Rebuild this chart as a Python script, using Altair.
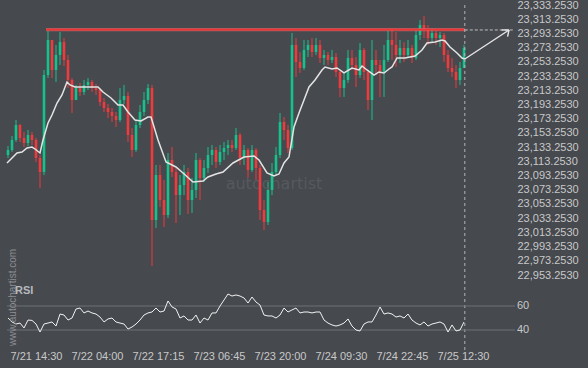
import altair as alt
import pandas as pd

# ---------------- data ----------------
bar_index = list(range(115))

opens = [
23122.1, 23129.2, 23143.3, 23164.4, 23146.1, 23139.0, 23150.3, 23143.3, 23117.9, 23098.2,
23234.7, 23284.0, 23241.8, 23262.9, 23281.2, 23255.9, 23227.7, 23199.6, 23216.4, 23210.8,
23220.7, 23224.9, 23216.4, 23213.6, 23196.7, 23188.3, 23182.7, 23177.0, 23171.4, 23199.6,
23205.2, 23150.3, 23129.2, 23164.4, 23182.7, 23199.6, 23216.4, 23030.7, 23094.0, 23058.8,
23037.7, 23115.1, 23098.2, 23065.8, 23079.9, 23098.2, 23058.8, 23072.9, 23115.1, 23089.8,
23103.8, 23122.1, 23129.2, 23112.3, 23126.4, 23132.0, 23136.2, 23132.0, 23150.3, 23117.9,
23129.2, 23101.0, 23129.2, 23103.8, 23044.7, 23027.9, 23072.9, 23098.2, 23122.1, 23168.6,
23157.3, 23132.0, 23277.0, 23253.0, 23244.6, 23269.9, 23277.0, 23267.1, 23277.0, 23258.7,
23262.9, 23255.9, 23260.1, 23239.0, 23216.4, 23227.7, 23258.7, 23248.8, 23234.7, 23269.9,
23239.0, 23199.6, 23255.9, 23248.8, 23239.0, 23255.9, 23284.0, 23277.0, 23262.9, 23272.7,
23262.9, 23272.7, 23258.7, 23291.0, 23305.1, 23298.1, 23286.8, 23293.9, 23286.8, 23291.0,
23262.9, 23244.6, 23239.0, 23227.7, 23244.6]

closes = [
23129.2, 23143.3, 23164.4, 23146.1, 23139.0, 23150.3, 23143.3, 23117.9, 23098.2, 23234.7,
23284.0, 23241.8, 23262.9, 23281.2, 23255.9, 23227.7, 23199.6, 23216.4, 23210.8, 23220.7,
23224.9, 23216.4, 23213.6, 23196.7, 23188.3, 23182.7, 23177.0, 23171.4, 23199.6, 23205.2,
23150.3, 23129.2, 23164.4, 23182.7, 23199.6, 23216.4, 23030.7, 23094.0, 23058.8, 23037.7,
23115.1, 23098.2, 23065.8, 23079.9, 23098.2, 23058.8, 23072.9, 23115.1, 23089.8, 23103.8,
23122.1, 23129.2, 23112.3, 23126.4, 23132.0, 23136.2, 23132.0, 23150.3, 23117.9, 23129.2,
23101.0, 23129.2, 23103.8, 23044.7, 23027.9, 23072.9, 23098.2, 23122.1, 23168.6, 23157.3,
23132.0, 23277.0, 23253.0, 23244.6, 23269.9, 23277.0, 23267.1, 23277.0, 23258.7, 23262.9,
23255.9, 23260.1, 23239.0, 23216.4, 23227.7, 23258.7, 23248.8, 23234.7, 23269.9, 23239.0,
23199.6, 23255.9, 23248.8, 23239.0, 23255.9, 23284.0, 23277.0, 23262.9, 23272.7, 23262.9,
23272.7, 23258.7, 23291.0, 23305.1, 23298.1, 23286.8, 23293.9, 23286.8, 23291.0, 23262.9,
23244.6, 23239.0, 23227.7, 23244.6, 23272.7]

highs = [
23134.8, 23148.9, 23171.4, 23165.8, 23154.5, 23157.3, 23154.5, 23146.1, 23122.1, 23241.8,
23296.7, 23284.0, 23277.0, 23295.3, 23286.8, 23262.9, 23230.5, 23220.7, 23223.5, 23227.7,
23230.5, 23227.7, 23222.1, 23216.4, 23202.4, 23193.9, 23188.3, 23182.7, 23216.4, 23220.7,
23210.8, 23160.1, 23171.4, 23192.5, 23210.8, 23222.1, 23220.7, 23108.1, 23108.1, 23087.0,
23125.0, 23133.4, 23103.8, 23094.0, 23108.1, 23103.8, 23089.8, 23125.0, 23117.9, 23115.1,
23133.4, 23136.2, 23133.4, 23136.2, 23140.4, 23143.3, 23143.3, 23160.1, 23153.1, 23136.2,
23132.0, 23136.2, 23132.0, 23108.1, 23058.8, 23084.1, 23110.9, 23133.4, 23181.3, 23175.6,
23164.4, 23293.9, 23286.8, 23267.1, 23284.0, 23284.0, 23286.8, 23286.8, 23284.0, 23269.9,
23267.1, 23269.9, 23265.7, 23241.8, 23239.0, 23269.9, 23269.9, 23260.1, 23279.8, 23272.7,
23241.8, 23284.0, 23269.9, 23255.9, 23277.0, 23298.1, 23300.9, 23295.3, 23284.0, 23281.2,
23284.0, 23277.0, 23298.1, 23312.1, 23317.8, 23305.1, 23300.9, 23298.1, 23295.3, 23293.9,
23269.9, 23258.7, 23248.8, 23253.0, 23277.0]

lows = [
23117.9, 23126.4, 23140.4, 23140.4, 23133.4, 23134.8, 23136.2, 23112.3, 23075.7, 23094.0,
23230.5, 23230.5, 23224.9, 23248.8, 23247.4, 23216.4, 23181.3, 23199.6, 23205.2, 23206.6,
23213.6, 23210.8, 23206.6, 23191.1, 23182.7, 23174.2, 23168.6, 23161.6, 23168.6, 23193.9,
23140.4, 23119.3, 23126.4, 23160.1, 23177.0, 23193.9, 22965.9, 23019.4, 23049.0, 23020.8,
23033.5, 23091.2, 23026.4, 23037.7, 23065.8, 23039.1, 23040.5, 23061.6, 23058.8, 23084.1,
23096.8, 23108.1, 23103.8, 23108.1, 23115.1, 23122.1, 23126.4, 23129.2, 23108.1, 23108.1,
23089.8, 23098.2, 23087.0, 23030.7, 23016.6, 23023.6, 23065.8, 23094.0, 23117.9, 23143.3,
23125.0, 23129.2, 23231.9, 23237.6, 23241.8, 23260.1, 23260.1, 23262.9, 23251.6, 23248.8,
23248.8, 23251.6, 23231.9, 23203.8, 23203.8, 23223.5, 23241.8, 23217.9, 23230.5, 23227.7,
23185.5, 23171.4, 23234.7, 23203.8, 23203.8, 23253.0, 23255.9, 23246.0, 23251.6, 23253.0,
23258.7, 23251.6, 23255.9, 23284.0, 23286.8, 23277.0, 23281.2, 23277.0, 23274.1, 23253.0,
23239.0, 23231.9, 23216.4, 23220.7, 23244.6]

# moving average
ma_index = [-0.25, 1, 2.25, 3.5, 4.75, 6, 6.75, 8, 8.75, 10, 11, 12.25, 13.5, 14.75, 15.5,
            16.75, 18, 22.5, 23.75, 25.75, 27.5, 28.75, 30, 31.75, 33.25, 35, 35.75, 36.75,
            37.5, 39.5, 42, 43.75, 46.25, 48.75, 50, 52, 53.75, 56.25, 59, 61.5, 62.75, 64.75,
            66.5, 67.75, 69, 70.25, 71.5, 72.75, 74, 75.25, 76.75, 78.5, 79.25, 81, 82.25, 84,
            86, 87.75, 88.5, 89.75, 91.5, 92.75, 94, 95.25, 96, 97.25, 99.25, 101.75, 103.5,
            104.75, 106.75, 108.5, 109.25, 110.5, 112.25, 113.5, 114.25]
ma_value = [23110.9, 23117.9, 23125.0, 23126.4, 23132.0, 23133.4, 23130.6, 23125.0, 23143.3,
            23167.2, 23178.4, 23195.3, 23206.6, 23224.9, 23220.7, 23217.9, 23217.9, 23217.9,
            23210.8, 23202.4, 23192.5, 23192.5, 23182.7, 23171.4, 23170.0, 23175.6, 23175.6,
            23157.3, 23143.3, 23112.3, 23105.3, 23096.8, 23084.1, 23085.5, 23091.2, 23095.4,
            23098.2, 23110.9, 23119.3, 23120.7, 23115.1, 23096.8, 23092.6, 23095.4, 23110.9,
            23119.3, 23161.6, 23181.3, 23199.6, 23217.9, 23227.7, 23241.8, 23246.0, 23243.2,
            23244.6, 23237.6, 23244.6, 23241.8, 23247.4, 23241.8, 23234.7, 23239.0, 23237.6,
            23243.2, 23246.0, 23258.7, 23258.7, 23261.5, 23269.9, 23279.8, 23281.2, 23284.0,
            23282.6, 23274.1, 23265.7, 23258.7, 23257.3]

rsi_values = [
50, 46.7, 45, 45.8, 41.7, 48.3, 48, 45, 38.3, 45,
45.8, 46.7, 43.3, 53.3, 52.5, 48.3, 50, 57.5, 58.3, 54.2,
55.8, 54.2, 53.3, 50.8, 46.7, 49.2, 50, 46.7, 45.8, 45,
40.8, 42.5, 45, 48.3, 52.5, 54.2, 55, 58.3, 55, 55.8,
64.2, 59.2, 57.5, 50, 51.7, 48.3, 48.3, 52.5, 45.8, 50,
48.3, 54.2, 54.2, 60, 65, 70, 68.3, 69.2, 68.3, 66.7,
62.5, 67.5, 63.3, 60.8, 52.5, 51.7, 51.7, 50, 52.5, 58.3,
55, 56.7, 58.3, 54.2, 55, 55, 54.2, 55, 55, 48.3,
45.8, 44.2, 43.3, 44.2, 45.8, 49.2, 43.3, 40, 39.2, 45,
46.7, 46.7, 52.5, 59.2, 53.3, 54.2, 53.3, 50.8, 51.7, 50,
53.3, 48.3, 45.8, 44.2, 46.7, 43.3, 45, 45.8, 46.7, 45,
38.3, 44.2, 39.2, 40, 46.7]

resistance_level = 23298.5
resistance_start = 9.5
last_bar = 114.2
projection_end = 125.25
projection_target = 23298.1
projection_start_price = 23257.3

x_tick_positions = [7, 22.25, 37.5, 52.75, 68, 83.25, 98.5, 113.75]
x_tick_labels = ['7/21 14:30', '7/22 04:00', '7/22 17:15', '7/23 06:45',
                 '7/23 20:00', '7/24 09:30', '7/24 22:45', '7/25 12:30']
price_ticks = [22953.253 + 20 * k for k in range(20)]
rsi_levels = [40, 60]

# ---------------- styling ----------------
BG = "#46494e"
GREEN = "#14c28c"
RED = "#f03a3e"
LABEL = "#c8c8c8"
FONT = "Liberation Sans"

XDOM = [-0.25, 126.75]
PDOM = [22854.74, 23340.29]
RDOM = [27.5, 315.0]

xs = alt.Scale(domain=XDOM, nice=False, zero=False)
ps = alt.Scale(domain=PDOM, nice=False, zero=False)
rs = alt.Scale(domain=RDOM, nice=False, zero=False)

label_js = "[" + ",".join("'%s'" % s for s in x_tick_labels) + "]"
x_axis = alt.Axis(values=x_tick_positions, labelExpr=label_js + "[round((datum.value - 7) / 15.25)]",
                  title=None, grid=False, ticks=False, domain=False, labelPadding=5,
                  labelColor=LABEL, labelFont=FONT, labelFontSize=11)
p_axis = alt.Axis(values=price_ticks, format=",.4f", orient="right", title=None, grid=False,
                  ticks=False, domain=False, labelPadding=2, labelColor=LABEL, labelFont=FONT,
                  labelFontSize=11)


def X(field=None, datum=None):
    if datum is not None:
        return alt.X(datum=datum, type="quantitative", scale=xs, axis=x_axis)
    return alt.X(field, type="quantitative", scale=xs, axis=x_axis)


def P(field=None, datum=None):
    if datum is not None:
        return alt.Y(datum=datum, type="quantitative", scale=ps, axis=p_axis)
    return alt.Y(field, type="quantitative", scale=ps, axis=p_axis)


def R(field=None, datum=None):
    if datum is not None:
        return alt.Y(datum=datum, type="quantitative", scale=rs, axis=None)
    return alt.Y(field, type="quantitative", scale=rs, axis=None)


df = pd.DataFrame({"i": bar_index, "open": opens, "high": highs, "low": lows, "close": closes})
df["dir"] = ["up" if c >= o else "down" for o, c in zip(opens, closes)]
color = alt.Color("dir:N", scale=alt.Scale(domain=["up", "down"], range=[GREEN, RED]), legend=None)

ma_df = pd.DataFrame({"i": ma_index, "ma": ma_value})
rsi_df = pd.DataFrame({"i": bar_index, "rsi": rsi_values})

watermark = alt.Chart(pd.DataFrame({"t": ["autochartist"]})).mark_text(
    font="DejaVu Sans", fontSize=16, color="#56595e", align="center", baseline="middle"
).encode(x=X(datum=66.5), y=P(datum=23081.3), text="t:N")

wicks = alt.Chart(df).mark_rule(strokeWidth=1).encode(
    x=X("i"), y=P("low"), y2="high:Q", color=color)
bodies = alt.Chart(df).mark_rule(strokeWidth=2.6).encode(
    x=X("i"), y=P("open"), y2="close:Q", color=color)
ma_line = alt.Chart(ma_df).mark_line(color="#e4e4e4", strokeWidth=1.5).encode(
    x=X("i"), y=P("ma"))

res_df = pd.DataFrame({"a": [resistance_start], "b": [last_bar], "p": [resistance_level]})
res_glow = alt.Chart(res_df).mark_rule(color="#f07070", strokeWidth=3.2, opacity=0.6).encode(
    x=X("a"), x2="b:Q", y=P("p"))
res_line = alt.Chart(res_df).mark_rule(color="#ee3336", strokeWidth=1.8).encode(
    x=X("a"), x2="b:Q", y=P("p"))

ext_df = pd.DataFrame({"a": [last_bar], "b": [126.25], "p": [projection_target]})
ext_line = alt.Chart(ext_df).mark_rule(color="#c0c0c0", strokeWidth=1, strokeDash=[3, 2]).encode(
    x=X("a"), x2="b:Q", y=P("p"))

arrow_df = pd.DataFrame({
    "xa": [last_bar, projection_end, projection_end],
    "xb": [projection_end, 123.4, 124.9],
    "ya": [projection_start_price, projection_target, projection_target],
    "yb": [projection_target, projection_target, 23288.6],
})
arrow = alt.Chart(arrow_df).mark_rule(color="#e6e6e6", strokeWidth=1.4).encode(
    x=X("xa"), x2="xb:Q", y=P("ya"), y2="yb:Q")

vline = alt.Chart(pd.DataFrame({"a": [last_bar]})).mark_rule(
    color="#b4b4b4", strokeWidth=1, strokeDash=[3, 3]
).encode(x=X("a"), y=alt.value(5), y2=alt.value(350))

price_layer = alt.layer(wicks, watermark, bodies, ma_line, res_glow, res_line, ext_line, arrow, vline)

lvl_df = pd.DataFrame({"lvl": rsi_levels, "a": [XDOM[0]] * 2, "b": [XDOM[1]] * 2,
                       "t": [str(v) for v in rsi_levels]})
rsi_grid = alt.Chart(lvl_df).mark_rule(color="#6d7075", strokeWidth=1).encode(
    x=X("a"), x2="b:Q", y=R("lvl"))
rsi_labels = alt.Chart(lvl_df).mark_text(
    align="left", baseline="middle", dx=2, color=LABEL, font=FONT, fontSize=11
).encode(x=X("b"), y=R("lvl"), text="t:N")
rsi_line = alt.Chart(rsi_df).mark_line(color="#f2f2f2", strokeWidth=1).encode(
    x=X("i"), y=R("rsi"))
rsi_title = alt.Chart(pd.DataFrame({"t": ["RSI"]})).mark_text(
    align="left", baseline="middle", color="#b6b9bd", font=FONT, fontSize=11, fontWeight="bold"
).encode(x=X(datum=1.75), y=R(datum=72.5), text="t:N")
site = alt.Chart(pd.DataFrame({"t": ["www.autochartist.com"]})).mark_text(
    align="center", baseline="middle", angle=270, color="#8b8e92", font=FONT, fontSize=10
).encode(x=X(datum=1.25), y=R(datum=67.1), text="t:N")

rsi_layer = alt.layer(rsi_grid, rsi_line, rsi_labels, site, rsi_title)

chart = alt.layer(price_layer, rsi_layer).resolve_scale(
    y="independent", color="independent"
).properties(
    width=508, height=345,
    padding={"left": 7, "top": 0, "right": 73, "bottom": 23},
    autosize=alt.AutoSizeParams(type="none"),
    background=BG,
).configure_view(stroke=None)

chart.save("out.html", embed_options={"renderer": "svg", "actions": False})
